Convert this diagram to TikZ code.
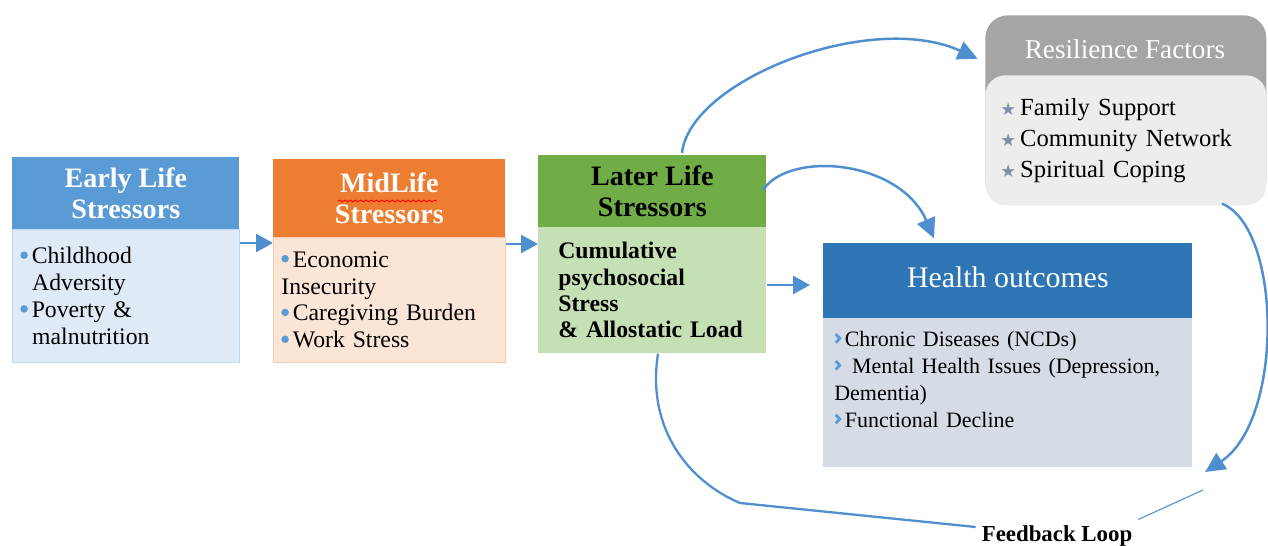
\documentclass[tikz,border=0pt]{standalone}
\usepackage{fontspec}
\setmainfont{Liberation Serif}
\newfontfamily\symfont{DejaVu Sans}
\usetikzlibrary{arrows.meta,positioning,decorations.pathmorphing}

\definecolor{earlyhead}{HTML}{5B9BD5}
\definecolor{earlybody}{HTML}{DEEBF7}
\definecolor{earlyline}{HTML}{BDD7EE}
\definecolor{midhead}{HTML}{ED7D31}
\definecolor{midbody}{HTML}{FBE5D6}
\definecolor{midline}{HTML}{F8CBAD}
\definecolor{laterhead}{HTML}{70AD47}
\definecolor{laterbody}{HTML}{C5E0B4}
\definecolor{healthhead}{HTML}{2E75B6}
\definecolor{healthbody}{HTML}{D6DCE5}
\definecolor{reshead}{HTML}{A5A5A5}
\definecolor{resbody}{HTML}{EDEDED}
\definecolor{arrowblue}{HTML}{4F8FCF}
\definecolor{dotblue}{HTML}{5B9BD5}
\definecolor{stargray}{HTML}{7F8FA6}

\newcommand{\dotbul}{\raisebox{0.2em}{\tikz\fill[dotblue] (0cm,0cm) circle (0.075cm);}\,}
\newcommand{\chev}{\raisebox{0.12em}{\tikz\draw[dotblue,line width=1.6pt] (0cm,0.17cm) -- (0.08cm,0.085cm) -- (0cm,0cm);}\,}
\newcommand{\resstar}{\textcolor{stargray}{\symfont\fontsize{10}{10}\selectfont ★}\,}

\begin{document}
\begin{tikzpicture}[x=0.02cm,y=-0.02cm]
\tikzset{
  headbox/.style={rectangle,anchor=north west,inner sep=0pt,align=center,text=white,
    font=\fontsize{16}{17.8}\selectfont\bfseries},
  bodybox/.style={rectangle,anchor=north west,inner ysep=0pt,inner xsep=0.16cm,align=left,
    font=\fontsize{13.5}{15.3}\selectfont},
  flowarrow/.style={draw=arrowblue,line width=1.6pt,-{Triangle[length=3.4mm,width=3.6mm]}},
  curvearrow/.style={draw=arrowblue,line width=1.4pt,-{Triangle[length=4mm,width=3.8mm]}},
  loopline/.style={draw=arrowblue,line width=1.3pt},
  thinline/.style={draw=arrowblue,line width=0.6pt}
}
\useasboundingbox (0,0) rectangle (1268,546);

% early life
\node[headbox,fill=earlyhead,minimum width=4.54cm,minimum height=1.44cm] (early_h) at (12,157) {Early Life\\Stressors};
\node[bodybox,fill=earlybody,draw=earlyline,text width=4.22cm,minimum height=2.66cm] (early_b) at (12,229)
  {\dotbul Childhood\\\hspace*{0.5em}Adversity\\\dotbul Poverty \&\\\hspace*{0.5em}malnutrition};

% midlife
\node[headbox,fill=midhead,minimum width=4.64cm,minimum height=1.56cm] (mid_h) at (273,159) {MidLife\\Stressors};
\draw[red,line width=0.5pt,decorate,decoration={snake,amplitude=0.5pt,segment length=3pt}] (338,201) -- (437,201);
\node[bodybox,fill=midbody,draw=midline,text width=4.32cm,minimum height=2.5cm] (mid_b) at (273,237)
  {\dotbul Economic\\Insecurity\\\dotbul Caregiving Burden\\\dotbul Work Stress};

% later life
\node[headbox,fill=laterhead,text=black,minimum width=4.56cm,minimum height=1.44cm] (later_h) at (538,155) {Later Life\\Stressors};
\node[bodybox,fill=laterbody,inner xsep=0.4cm,text width=3.76cm,minimum height=2.52cm,
  font=\fontsize{13.5}{15}\selectfont\bfseries] (later_b) at (538,227)
  {Cumulative\\psychosocial\\Stress\\\& Allostatic Load};

% health outcomes
\node[headbox,fill=healthhead,minimum width=7.38cm,minimum height=1.5cm,
  font=\fontsize{17}{19}\selectfont] (health_h) at (823,243) {\raisebox{0.25em}{Health outcomes}};
\node[bodybox,fill=healthbody,inner xsep=0.22cm,text width=6.94cm,minimum height=2.98cm,
  font=\fontsize{12.5}{15.3}\selectfont] (health_b) at (823,318)
  {\chev Chronic Diseases (NCDs)\\\chev\ Mental Health Issues (Depression,\\Dementia)\\\chev Functional Decline\\\mbox{}};

% resilience
\node[rectangle,anchor=north west,fill=reshead,rounded corners=0.45cm,minimum width=5.62cm,minimum height=3.76cm] (res) at (985,15) {};
\node[bodybox,fill=resbody,rounded corners=0.4cm,inner xsep=0.3cm,text width=5.02cm,minimum height=2.6cm,
  font=\fontsize{14}{17.6}\selectfont] (res_b) at (985,75)
  {\resstar Family Support\\\resstar Community Network\\\resstar Spiritual Coping};
\node[text=white,font=\fontsize{15.5}{17}\selectfont] (res_h) at (1125,49) {Resilience Factors};

% connectors
\draw[flowarrow] (early_b.east |- 0,243) -- (mid_b.west |- 0,243);
\draw[flowarrow] (mid_b.east |- 0,244) -- (later_b.west |- 0,244);
\draw[flowarrow,shorten >=0.26cm] (later_b.east |- 0,285) -- (health_h.west |- 0,285);
\draw[curvearrow,shorten >=0.16cm] (682,153) .. controls (690,80) and (870,10) .. (res.west |- 0,62);
\draw[curvearrow,shorten >=0.1cm] (763,190) .. controls (790,150) and (900,160) .. (health_h.north -| 936,0);

\coordinate (loop_tip) at (1205,472);
\coordinate (loop_end) at (1203,490);
\draw[curvearrow] (res.south -| 1222,0) .. controls (1282,228) and (1284,420) .. (loop_tip);

% feedback
\node[font=\fontsize{13}{15}\selectfont\bfseries] (fb) at (1057,536) {Feedback Loop};
\draw[loopline] (later_b.south -| 658,0) .. controls (646,430) and (690,482) .. (740,503) -- (fb.west |- 0,527);
\draw[thinline] (fb.north east) -- (loop_end);
\end{tikzpicture}
\end{document}
